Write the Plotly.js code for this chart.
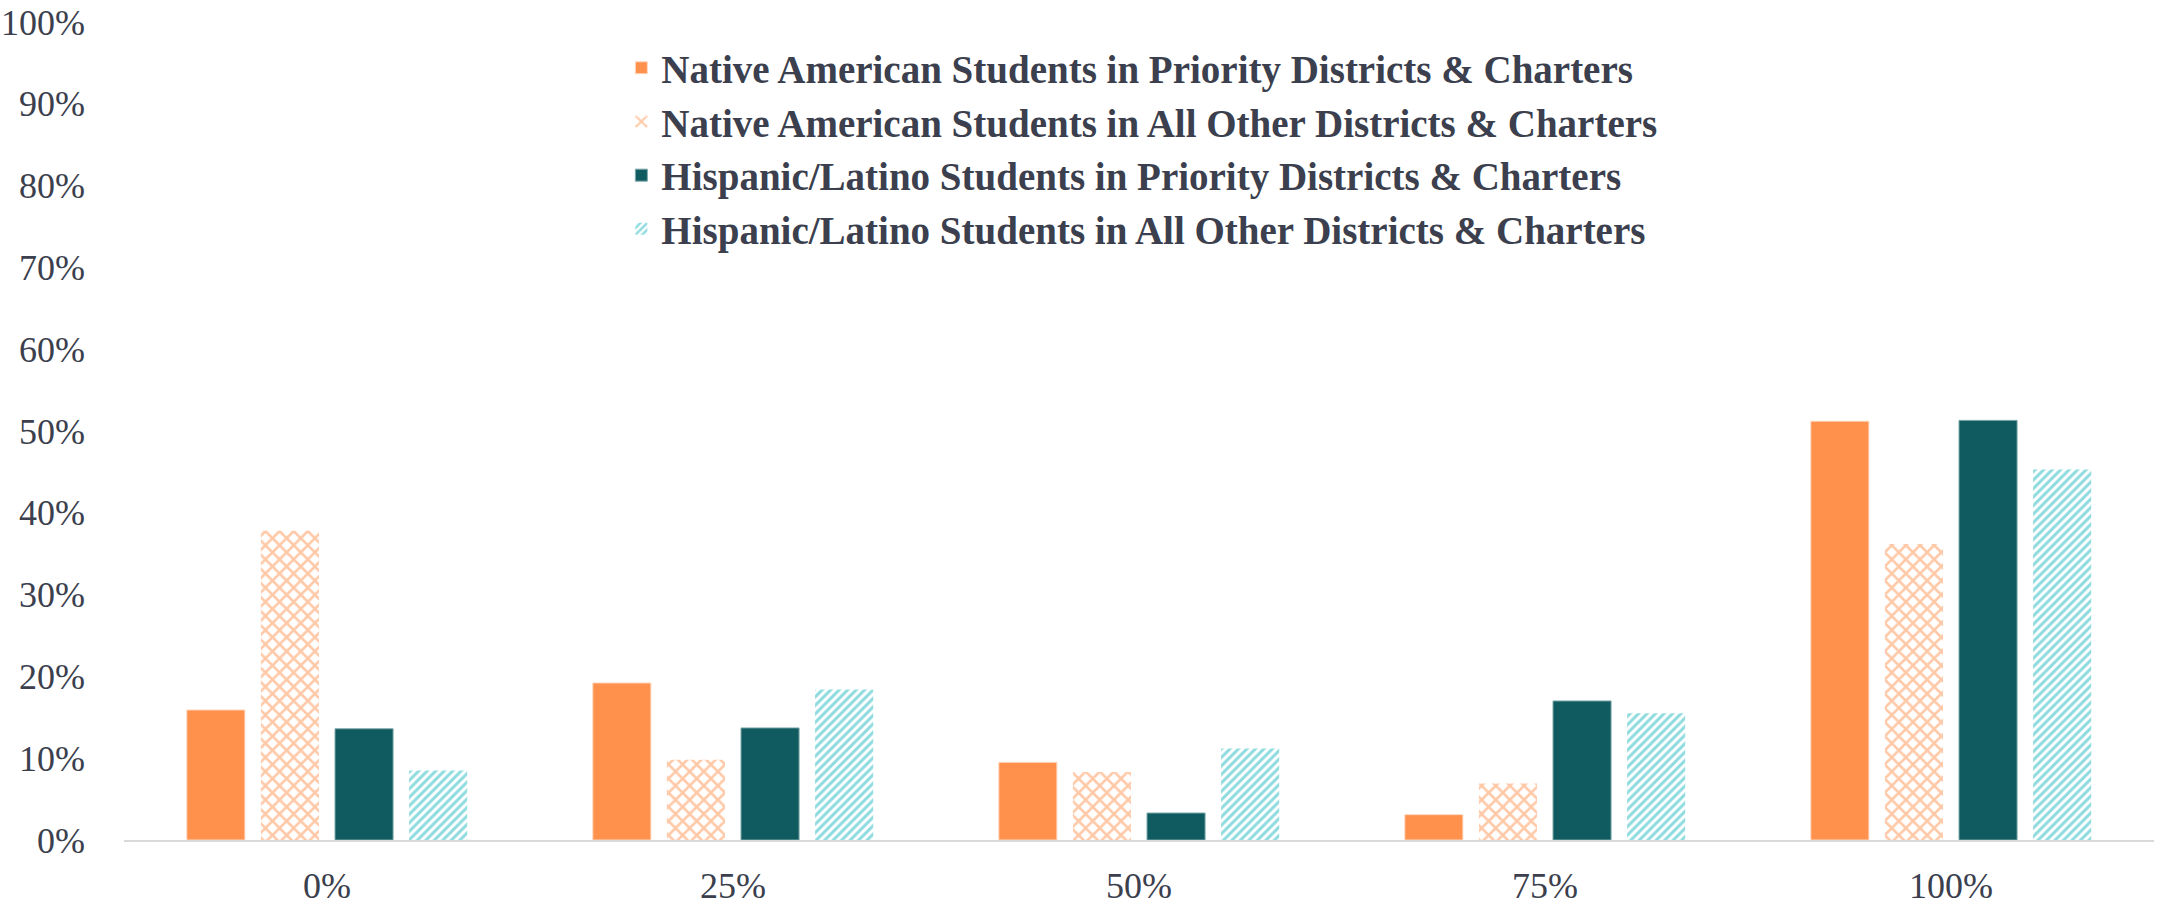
<!DOCTYPE html>
<html>
<head>
<meta charset="utf-8">
<script src="https://cdn.plot.ly/plotly-3.0.1.min.js"></script>
<style>html,body{margin:0;padding:0;background:#fff;}#chart{width:2159px;height:909px;}</style>
</head>
<body>
<div id="chart"></div>
<script>
const categories = ["0%", "25%", "50%", "75%", "100%"];
const seriesNames = [
  "Native American Students in Priority Districts & Charters",
  "Native American Students in All Other Districts & Charters",
  "Hispanic/Latino Students in Priority Districts & Charters",
  "Hispanic/Latino Students in All Other Districts & Charters"
];
const nativePriority = [15.9, 19.2, 9.5, 3.1, 51.2];
const nativeOther = [37.8, 9.8, 8.3, 6.9, 36.2];
const hispanicPriority = [13.6, 13.7, 3.3, 17.0, 51.3];
const hispanicOther = [8.5, 18.4, 11.2, 15.5, 45.3];
const yTicks = [0, 10, 20, 30, 40, 50, 60, 70, 80, 90, 100];

const orange = "#FF914D", teal = "#0F5B5F", cyan = "#1BB7BF";
const textColor = "#3B3F4E";

const traces = [
  {y: nativePriority, name: seriesNames[0], marker: {color: orange, line: {color: "#FFD9C2", width: 1}}},
  {y: nativeOther, name: seriesNames[1], marker: {color: "#ffffff", line: {width: 0},
    pattern: {shape: "x", fgcolor: orange, bgcolor: "#ffffff", size: 10, solidity: 0.45, fillmode: "overlay"}}},
  {y: hispanicPriority, name: seriesNames[2], marker: {color: teal, line: {color: "#7FA9AB", width: 1}}},
  {y: hispanicOther, name: seriesNames[3], marker: {color: "#ffffff", line: {width: 0},
    pattern: {shape: "/", fgcolor: cyan, bgcolor: "#ffffff", size: 6, solidity: 0.5, fillmode: "overlay"}}}
].map(t => Object.assign({type: "bar", x: categories, hoverinfo: "skip"}, t));

const tickFont = {size: 36, color: textColor, family: "Liberation Serif, serif"};

const layout = {
  width: 2159, height: 909,
  margin: {l: 124, r: 5, t: 22, b: 69},
  paper_bgcolor: "#fff", plot_bgcolor: "#fff",
  barmode: "group", bargap: 0.27, bargroupgap: 0.216,
  font: {family: "Liberation Serif, serif", color: textColor},
  xaxis: {
    type: "category",
    showgrid: false, zeroline: false, showline: true, linecolor: "#D9D9D9", linewidth: 2,
    ticks: "", tickfont: tickFont, ticklabeloverflow: "allow",
    ticklabelstandoff: 13, fixedrange: true, automargin: false
  },
  yaxis: {
    range: [0, 100], tickvals: yTicks, ticktext: yTicks.map(v => v + "%"),
    showgrid: false, zeroline: false, showline: false, ticks: "",
    tickfont: tickFont, ticklabeloverflow: "allow",
    ticklabelstandoff: 38, fixedrange: true, automargin: false
  },
  legend: {
    x: 0.245, y: 0.983, xanchor: "left", yanchor: "top",
    font: {size: 39, color: textColor, family: "Liberation Serif, serif", weight: "bold"},
    bgcolor: "rgba(0,0,0,0)", traceorder: "normal"
  },
  showlegend: true
};

Plotly.newPlot("chart", traces, layout, {displayModeBar: false, staticPlot: true});
</script>
</body>
</html>
